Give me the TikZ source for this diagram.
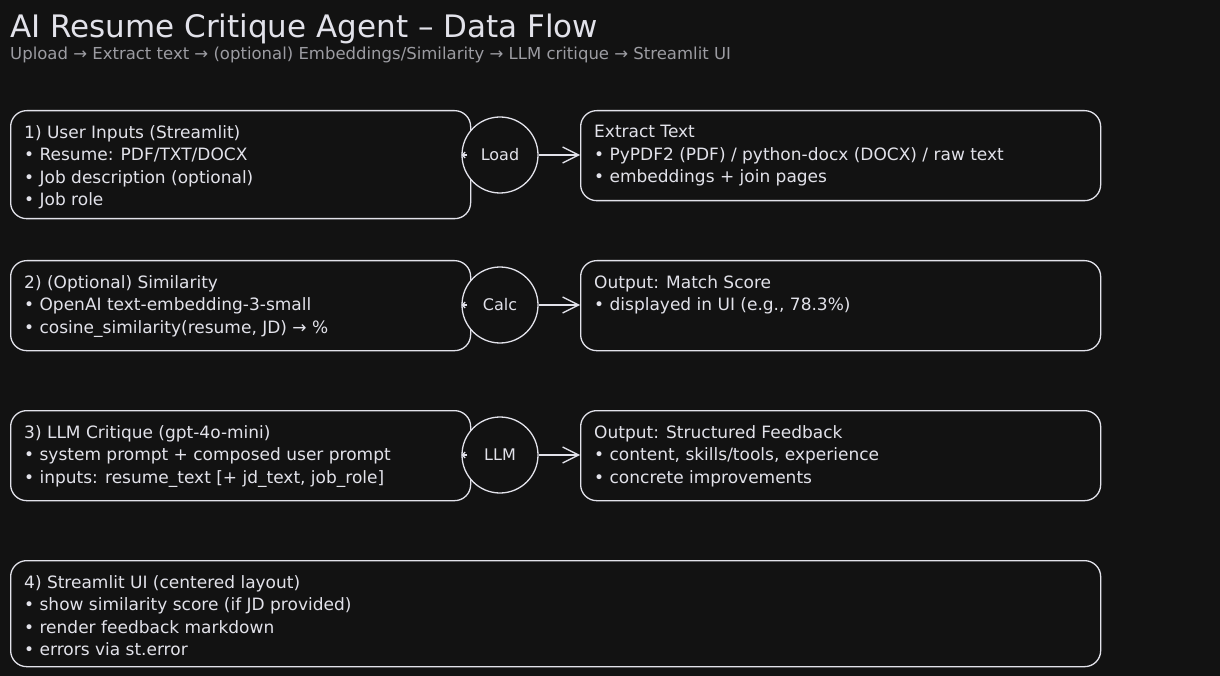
\documentclass[tikz,border=0pt]{standalone}
\usepackage{fontspec}
\setmainfont{DejaVu Sans}
\usetikzlibrary{arrows.meta}
\definecolor{bg}{HTML}{121212}
\definecolor{fg}{HTML}{E2E2EA}
\definecolor{subc}{HTML}{9C9CA2}
\tikzset{
  box/.style={draw=fg, line width=1.3pt, rounded corners=16pt, anchor=north west, inner sep=0pt},
  hub/.style={circle, draw=fg, fill=bg, line width=1.3pt, minimum size=76pt, inner sep=0pt, text=fg, font=\fontsize{16}{18}\selectfont},
  txt/.style={anchor=north west, inner sep=0pt, align=left, text=fg, font=\fontsize{17}{22.6}\selectfont},
  flow/.style={draw=fg, line width=1.3pt, -{Straight Barb[length=16pt,width=16pt,line width=1.3pt]}},
  tick/.style={draw=fg, line width=1.2pt, -{Straight Barb[length=3pt,width=6pt]}}
}
\begin{document}
\begin{tikzpicture}[x=1pt,y=-1pt]
\useasboundingbox[fill=bg] (0,0) rectangle (1220,676);

\node[anchor=base west, inner sep=0pt, text=fg, font=\fontsize{31}{34}\selectfont] (title) at (10,38) {AI Resume Critique Agent – Data Flow};
\node[anchor=base west, inner sep=0pt, text=subc, font=\fontsize{16.5}{18}\selectfont] (subtitle) at (10,60) {Upload → Extract text → (optional) Embeddings/Similarity → LLM critique → Streamlit UI};

% row 1
\node[box, minimum width=460pt, minimum height=108pt] (in1) at (10,110) {};
\node[box, minimum width=520pt, minimum height=90pt] (out1) at (580,110) {};
\node[hub] (c1) at (500,155) {Load};
\node[txt] (t1) at (24,125) {1) User Inputs (Streamlit)\\• Resume: PDF/TXT/DOCX\\• Job description (optional)\\• Job role};
\node[txt] (u1) at (594,125) {Extract Text\\• PyPDF2 (PDF) / python-docx (DOCX) / raw text\\• embeddings + join pages};

% row 2
\node[box, minimum width=460pt, minimum height=90pt] (in2) at (10,260) {};
\node[box, minimum width=520pt, minimum height=90pt] (out2) at (580,260) {};
\node[hub] (c2) at (500,305) {Calc};
\node[txt] (t2) at (24,275) {2) (Optional) Similarity\\• OpenAI text-embedding-3-small\\• cosine\_similarity(resume, JD) → \%};
\node[txt] (u2) at (594,275) {Output: Match Score\\• displayed in UI (e.g., 78.3\%)};

% row 3
\node[box, minimum width=460pt, minimum height=90pt] (in3) at (10,410) {};
\node[box, minimum width=520pt, minimum height=90pt] (out3) at (580,410) {};
\node[hub] (c3) at (500,455) {LLM};
\node[txt] (t3) at (24,425) {3) LLM Critique (gpt-4o-mini)\\• system prompt + composed user prompt\\• inputs: resume\_text [+ jd\_text, job\_role]};
\node[txt] (u3) at (594,425) {Output: Structured Feedback\\• content, skills/tools, experience\\• concrete improvements};

% row 4
\node[box, minimum width=1090pt, minimum height=106pt] (ui) at (10,560) {};
\node[txt] (t4) at (24,575) {4) Streamlit UI (centered layout)\\• show similarity score (if JD provided)\\• render feedback markdown\\• errors via st.error};

% connectors
\draw[flow] (c1.east) -- (out1.west |- c1.east);
\draw[flow] (c2.east) -- (out2.west |- c2.east);
\draw[flow] (c3.east) -- (out3.west |- c3.east);
\draw[tick] ([xshift=6pt]c1.west) -- (c1.west);
\draw[tick] ([xshift=6pt]c2.west) -- (c2.west);
\draw[tick] ([xshift=6pt]c3.west) -- (c3.west);
\end{tikzpicture}
\end{document}
